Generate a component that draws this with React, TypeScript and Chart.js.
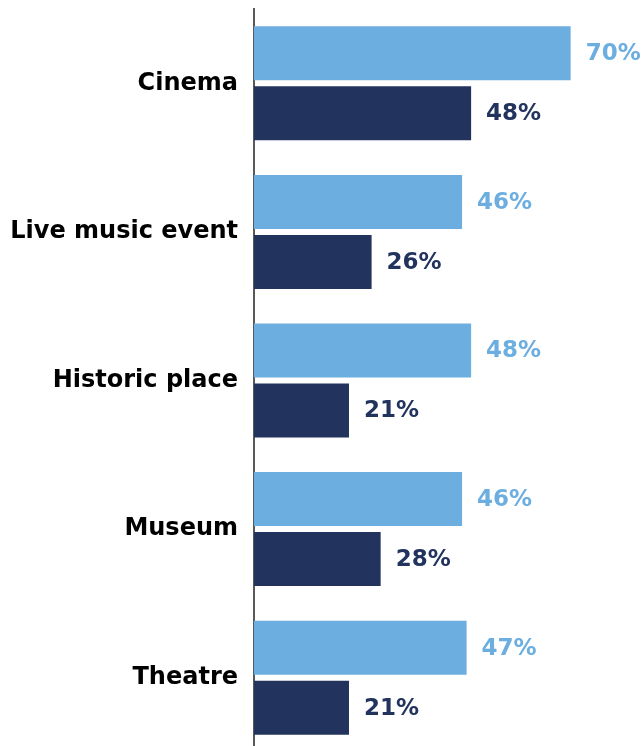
import React, { useEffect, useRef } from "react";
import { Chart, registerables } from "chart.js";

Chart.register(...registerables);

const categories = ["Cinema", "Live music event", "Historic place", "Museum", "Theatre"];
const seriesA = [70, 46, 48, 46, 47];
const seriesB = [48, 26, 21, 28, 21];
const colorA = "#6CAEE0";
const colorB = "#22335E";
const FONT = "'DejaVu Sans', sans-serif";

const valueLabels = {
  id: "valueLabels",
  afterDatasetsDraw(chart: any) {
    const ctx = chart.ctx;
    ctx.save();
    ctx.font = `bold 23px ${FONT}`;
    ctx.textAlign = "left";
    ctx.textBaseline = "middle";
    chart.data.datasets.forEach((ds: any, di: number) => {
      const meta = chart.getDatasetMeta(di);
      ctx.fillStyle = ds.backgroundColor;
      meta.data.forEach((el: any, i: number) => {
        ctx.fillText(`${ds.data[i]}%`, el.x + 15, el.y + 1);
      });
    });
    ctx.restore();
  },
};

export default function App() {
  const ref = useRef<HTMLCanvasElement>(null);
  useEffect(() => {
    if (!ref.current) return;
    const chart = new Chart(ref.current, {
      type: "bar",
      data: {
        labels: categories,
        datasets: [
          { data: seriesA, backgroundColor: colorA, categoryPercentage: 0.8075, barPercentage: 0.9 },
          { data: seriesB, backgroundColor: colorB, categoryPercentage: 0.8075, barPercentage: 0.9 },
        ],
      },
      options: {
        indexAxis: "y",
        responsive: false,
        maintainAspectRatio: false,
        animation: false,
        layout: { padding: { top: 9, left: 0, right: 0, bottom: 0 } },
        plugins: { legend: { display: false }, tooltip: { enabled: false } },
        scales: {
          x: { display: false, min: 0, max: 86 },
          y: {
            grid: { display: false },
            border: { display: true, color: "#595959", width: 2 },
            ticks: {
              padding: 8,
              color: "#000",
              font: { family: FONT, size: 24, weight: "bold" },
            },
            afterFit(scale: any) {
              scale.width = 254;
              scale.paddingTop = 0;
              scale.paddingBottom = 0;
            },
          },
        },
      },
      plugins: [valueLabels],
    });
    return () => chart.destroy();
  }, []);
  return (
    <div style={{ position: "fixed", left: 0, top: 0, width: 643, height: 746, overflow: "hidden", background: "#fff" }}>
      <canvas ref={ref} width={643} height={752} style={{ display: "block", width: 643, height: 752 }} />
    </div>
  );
}
